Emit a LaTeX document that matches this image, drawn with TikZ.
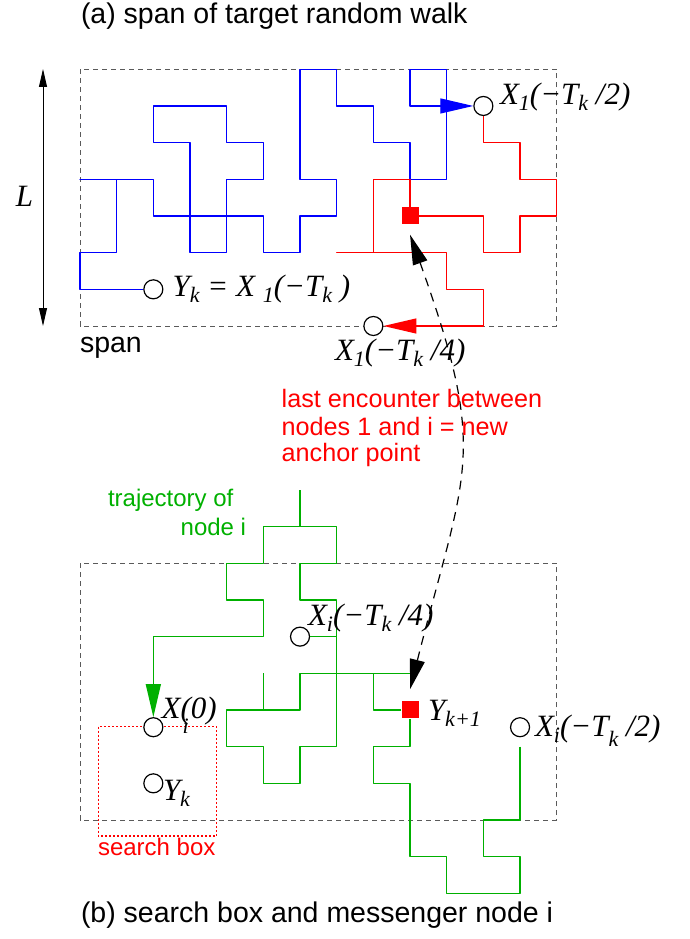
\documentclass[tikz,border=0pt]{standalone}
\usepackage{fontspec}
\setmainfont{Liberation Sans}
\newfontfamily\mserif{Liberation Serif}
\usetikzlibrary{arrows.meta,calc}
\definecolor{wblue}{RGB}{0,0,255}
\definecolor{wred}{RGB}{255,0,0}
\definecolor{wgreen}{RGB}{0,176,0}
\definecolor{boxgray}{RGB}{90,90,90}
\newcommand{\lb}[1]{\raisebox{-6pt}{\fontsize{22}{22}\selectfont #1}}
\newcommand{\mlab}[1]{{\mserif\itshape\fontsize{31}{32}\selectfont #1}}
\newcommand{\ttl}{\fontsize{28.5}{31}\selectfont}
\newcommand{\sml}{\fontsize{24}{27}\selectfont}
\newcommand{\rml}{\fontsize{25.2}{28}\selectfont}
\begin{document}
\begin{tikzpicture}[x=1pt,y=1pt,
  walk/.style={line width=1.35pt},
  spanbox/.style={draw=boxgray,line width=0.8pt,dash pattern=on 5pt off 4pt},
  pt/.style={circle,draw=black,fill=white,line width=1.2pt,minimum size=19pt,inner sep=0pt},
  sq/.style={rectangle,fill=wred,minimum size=17pt,inner sep=0pt},
  lab/.style={anchor=base west,inner sep=0pt,outer sep=0pt},
  bigtip/.style={-{Triangle[length=33pt,width=15pt]}},
]
\useasboundingbox (0,0) rectangle (690,-939);

% titles and plain labels
\node[lab] (ta) at (81,-24) {\ttl (a) span of target random walk};
\node[lab] (tb) at (81,-922) {\ttl (b) search box and messenger node i};
\node[lab] (spanlab) at (80,-352) {\ttl span};
\node[lab] (Llab) at (16,-206) {\mlab{L}};
\coordinate (Ltop) at (43,-69);
\coordinate (Lbot) at (43,-326);
\draw[line width=0.9pt,{Triangle[length=18pt,width=8pt]}-{Triangle[length=18pt,width=8pt]}] (Ltop) -- (Lbot);

% dashed span boxes
\draw[spanbox] (80,-69.3) rectangle (556.7,-326);
\draw[spanbox] (80,-563.3) rectangle (556.7,-820);

% search box
\draw[wred,line width=1.2pt,dash pattern=on 2pt off 2pt] (98.3,-726.7) rectangle (216.7,-836);
\node[lab,text=wred] (sblab) at (98,-855) {\sml search box};

% top walk
\begin{scope}[shift={(80pt,-69.3pt)},x=36.67pt,y=-36.67pt]
  \node[pt] (Yk) at (2,6) {};
  \node[pt] (X1a) at (11,1) {};
  \node[pt] (X1b) at (8,7) {};
  \node[sq] (SQa) at (9,4) {};
  \draw[walk,wblue,line join=round,bigtip] (Yk) -- (0,6) -- (0,5) -- (1,5) -- (1,3) -- (0,3) -- (2,3) -- (2,4) -- (3,4) -- (3,2) -- (2,2) -- (2,1) -- (4,1) -- (4,2) -- (5,2) -- (5,3) -- (4,3) -- (4,5) -- (3,5) -- (3,4) -- (5,4) -- (5,5) -- (6,5) -- (6,4) -- (7,4) -- (7,3) -- (6,3) -- (6,0) -- (7,0) -- (7,1) -- (8,1) -- (8,2) -- (9,2) -- (9,3) -- (10,3) -- (10,0) -- (9,0) -- (9,1) -- (X1a);
  \draw[walk,wred,line join=round] (X1a) -- (11,2) -- (12,2) -- (12,3) -- (13,3) -- (13,4) -- (12,4) -- (12,5) -- (11,5) -- (11,4) -- (SQa);
  \draw[walk,wred,line join=round,bigtip] (SQa) -- (9,3) -- (8,3) -- (8,5) -- (7,5) -- (10,5) -- (10,6) -- (11,6) -- (11,7) -- (X1b);
\end{scope}

% bottom walk
\begin{scope}[shift={(80pt,-563.3pt)},x=36.67pt,y=-36.67pt]
  \node[pt] (Xi0) at (2,4.47) {};
  \node[pt] (XiQ) at (6,2) {};
  \node[pt] (YkB) at (2,6) {};
  \node[pt] (XiH) at (12,4.47) {};
  \node[sq] (SQb) at (9,4) {};
  \coordinate (gstart) at (12,5);
  \coordinate (sp1a) at (5,4);
  \coordinate (sp1b) at (5,3);
  \coordinate (sp2a) at (6,-1);
  \coordinate (sp2b) at (6,-2);
  \draw[walk,wgreen,line join=round] (gstart) -- (12,7) -- (11,7) -- (11,8) -- (12,8) -- (12,9) -- (10,9) -- (10,8) -- (9,8) -- (9,6) -- (8,6) -- (8,5) -- (9,5) -- (SQb);
  \draw[walk,wgreen,line join=round] (SQb) -- (8,4) -- (8,3) -- (9,3) -- (6,3) -- (6,4) -- (4,4) -- (4,5) -- (5,5) -- (5,6) -- (6,6) -- (6,5) -- (7,5) -- (7,2) -- (XiQ);
  \draw[walk,wgreen,line join=round,bigtip] (XiQ) -- (7,2) -- (7,1) -- (6,1) -- (6,0) -- (7,0) -- (7,-1) -- (5,-1) -- (5,0) -- (4,0) -- (4,1) -- (5,1) -- (5,2) -- (2,2) -- (Xi0);
  \draw[walk,wgreen] (sp1a) -- (sp1b);
  \draw[walk,wgreen] (sp2a) -- (sp2b);
\end{scope}

% dashed link between the two anchor points
\draw[line width=1.2pt,dash pattern=on 9pt off 7pt,{Triangle[length=30pt,width=15pt]}-{Triangle[length=30pt,width=15pt]}]
  ($(SQa.south)+(0,-10)$) .. controls (489,-455) and (466,-468) .. ($(SQb.north)+(0,12)$);

% red annotation
\node[lab,text=wred] (r1) at (281.7,-407) {\rml last encounter between};
\node[lab,text=wred] (r2) at (281.7,-435) {\rml nodes 1 and i = new};
\node[lab,text=wred] (r3) at (281.7,-461.7) {\rml anchor point};

% green annotation
\node[lab,text=wgreen] (g1) at (108,-506.7) {\sml trajectory of};
\node[lab,text=wgreen] (g2) at (180.7,-535) {\sml node i};

% math labels
\node[lab] (lYk) at (172.7,-296.7) {\mlab{Y\lb{k} = X \lb{1}(−T\lb{k} )}};
\node[lab] (lX1a) at (500,-105) {\mlab{X\lb{1}(−T\lb{k} /2)}};
\node[lab] (lX1b) at (335,-360) {\mlab{X\lb{1}(−T\lb{k} /4)}};
\node[lab] (lXiQ) at (308,-625) {\mlab{X\lb{i}(−T\lb{k} /4)}};
\node[lab] (lXi0) at (161.7,-718) {\mlab{X\rlap{\raisebox{-15pt}{\fontsize{22}{22}\selectfont\hspace{2pt}i}}(0)}};
\node[lab] (lYkB) at (163,-800) {\mlab{Y\lb{k}}};
\node[lab] (lYk1) at (428,-720) {\mlab{Y\lb{k+1}}};
\node[lab] (lXiH) at (535,-736.7) {\mlab{X\lb{i}(−T\raisebox{-10pt}{\fontsize{22}{22}\selectfont k} /2)}};
\end{tikzpicture}
\end{document}
